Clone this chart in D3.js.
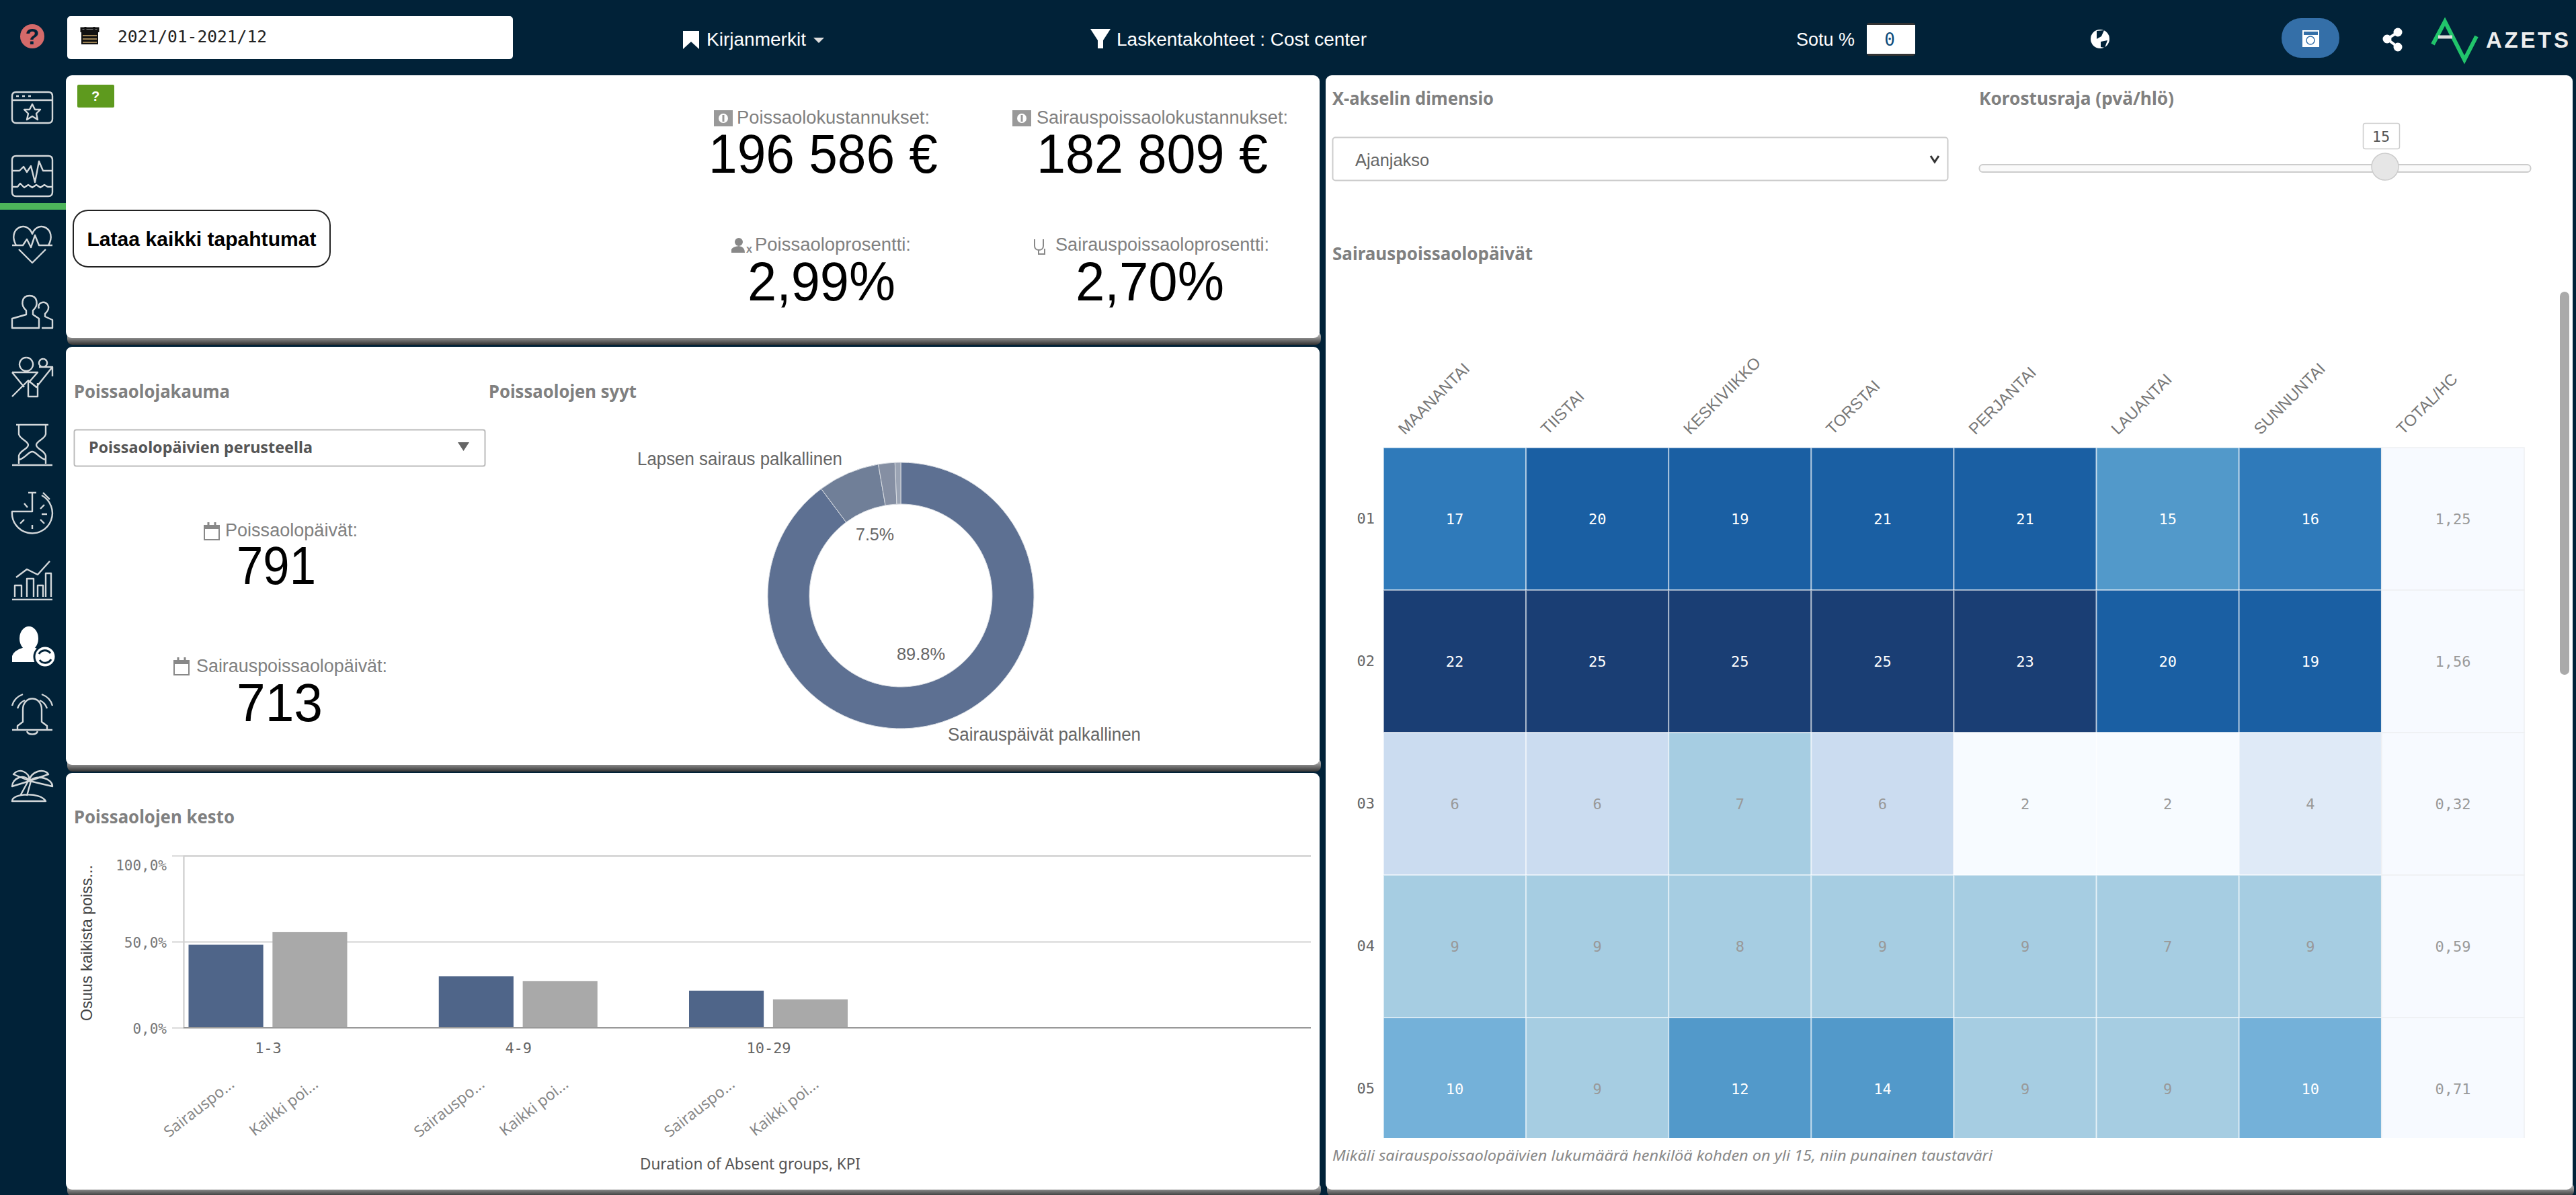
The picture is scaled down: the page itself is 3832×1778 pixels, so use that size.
<!DOCTYPE html>
<html>
<head>
<meta charset="utf-8">
<script src="https://cdn.jsdelivr.net/npm/d3@7"></script>
<style>
html,body{margin:0;padding:0;background:#012238;overflow:hidden;}
svg{display:block;}
</style>
</head>
<body>
<svg id="page" width="3832" height="1778"></svg>
<script>
// data
var weekdays = ["MAANANTAI","TIISTAI","KESKIVIIKKO","TORSTAI","PERJANTAI","LAUANTAI","SUNNUNTAI"];
var totalLabel = "TOTAL/HC";
var months = ["01","02","03","04","05"];
var sickDays = [
    [17,20,19,21,21,15,16],
    [22,25,25,25,23,20,19],
    [6,6,7,6,2,2,4],
    [9,9,8,9,9,7,9],
    [10,9,12,14,9,9,10]
];
var totals = ["1,25","1,56","0,32","0,59","0,71"];
var heatBreaks = [3,5,7,10,11,16,19,22];
var heatColors = ["#f7fbff","#dfeaf7","#cbdcf0","#a6cde2","#74b1d9","#5299ca","#2f7aba","#1a5fa3","#1a3e74"];

var reasons = ["Sairauspäivät palkallinen","Lapsen sairaus palkallinen","Muu","Muu 2"];
var reasonShare = [89.8,7.5,2.0,0.7];
var reasonColors = ["#5d7092","#707f98","#858fa3","#9ba4b4"];

var durationGroups = ["1-3","4-9","10-29"];
var durationSeries = ["Sairauspo...","Kaikki poi..."];
var sickShare = [48.2,29.9,21.5];
var allShare = [55.5,27.0,16.4];
var seriesColors = ["#4f6589","#a9a9a9"];
var yTicks = [0,50,100];

var SANS = "'Liberation Sans',Arial,sans-serif";
var PLEX = "'Noto Sans',sans-serif";
var MONO = "'DejaVu Sans Mono',monospace";
var svg = d3.select("#page");

function txt(parent, str, x, y, o){
    o = o || {};
    var t = parent.append("text").attr("x",x).attr("y",y).text(str)
        .attr("font-family",o.family||SANS)
        .attr("font-size",o.size||26)
        .attr("fill",o.fill||"#666")
        .attr("text-anchor",o.anchor||"start");
    if(o.weight) t.attr("font-weight",o.weight);
    if(o.style) t.attr("font-style",o.style);
    if(o.width) t.attr("textLength",o.width).attr("lengthAdjust",o.adjust||"spacingAndGlyphs");
    return t;
}

// panel shadow gradient
var grad = svg.append("defs").append("linearGradient").attr("id","shade").attr("x1",0).attr("x2",0).attr("y1",0).attr("y2",1);
grad.append("stop").attr("offset","0%").attr("stop-color","#e0e0e0");
grad.append("stop").attr("offset","100%").attr("stop-color","#333");

var panels = [[98,112,1865,391],[98,516,1865,622],[98,1150,1865,620],[1972,112,1855,1658]];
panels.forEach(function(p){
    svg.append("rect").attr("x",p[0]+2).attr("y",p[1]+p[3]-10).attr("width",p[2]).attr("height",20)
        .attr("rx",8).attr("fill","url(#shade)");
    svg.append("rect").attr("x",p[0]).attr("y",p[1]).attr("width",p[2]).attr("height",p[3])
        .attr("rx",9).attr("fill","#fff");
});

// top bar
svg.append("rect").attr("x",100).attr("y",24).attr("width",663).attr("height",64).attr("rx",5).attr("fill","#fff");
svg.append("rect").attr("x",121).attr("y",44).attr("width",25).attr("height",22).attr("fill","#111");
svg.append("path").attr("d","M121,48V42H146V48M127,40V44M140,40V44").attr("stroke","#111").attr("stroke-width",3).attr("fill","none");
svg.append("path").attr("d","M123,53H144M123,58H144M123,63H144").attr("stroke","#c9a76a").attr("stroke-width",1.5);
txt(svg,"2021/01-2021/12",175,63,{family:MONO,size:24,fill:"#222",width:222});
svg.append("ellipse").attr("cx",48).attr("cy",54).attr("rx",18).attr("ry",18).attr("fill","#d46a6a");
txt(svg,"?",48,66,{size:34,fill:"#012238",weight:"bold",anchor:"middle"});

svg.append("path").attr("d","M1016,46H1040V73L1028,62L1016,73Z").attr("fill","#fff");
txt(svg,"Kirjanmerkit",1051,68,{size:27,fill:"#fff",width:148});
svg.append("path").attr("d","M1210,56H1226L1218,64Z").attr("fill","#ddd");
svg.append("path").attr("d","M1622,43H1652L1641,60V72H1633V60Z").attr("fill","#fff");
txt(svg,"Laskentakohteet : Cost center",1661,68,{size:27,fill:"#fff",width:372});
txt(svg,"Sotu %",2672,68,{size:27,fill:"#fff",width:87});
svg.append("rect").attr("x",2777).attr("y",34).attr("width",72).attr("height",49).attr("rx",4).attr("fill","#333");
svg.append("rect").attr("x",2777).attr("y",37).attr("width",72).attr("height",43).attr("fill","#fff");
txt(svg,"0",2811,68,{family:MONO,size:26,fill:"#0a4a7a",anchor:"middle"});
svg.append("circle").attr("cx",3124).attr("cy",58).attr("r",14).attr("fill","#fff");
svg.append("path").attr("d","M3119,46L3130,45L3126,54L3119,58ZM3125,62L3135,60L3131,71L3125,70Z").attr("fill","#012238");
svg.append("rect").attr("x",3394).attr("y",27).attr("width",86).attr("height",59).attr("rx",29).attr("fill","#346fa8");
svg.append("rect").attr("x",3425).attr("y",45).attr("width",25).attr("height",25).attr("fill","#fff");
svg.append("rect").attr("x",3427).attr("y",47).attr("width",21).attr("height",5).attr("fill","#346fa8");
svg.append("circle").attr("cx",3437).attr("cy",60).attr("r",6).attr("fill","none").attr("stroke","#346fa8").attr("stroke-width",1.5);
svg.append("path").attr("d","M3567,48L3551,58L3567,70").attr("stroke","#fff").attr("stroke-width",4).attr("fill","none");
[[3567,48],[3551,58],[3567,70]].forEach(function(c){
    svg.append("circle").attr("cx",c[0]).attr("cy",c[1]).attr("r",6.5).attr("fill","#fff");
});
svg.append("path").attr("d","M3619,66L3637,32L3666,89L3684,54").attr("fill","none").attr("stroke","#21c46b").attr("stroke-width",6);
svg.append("path").attr("d","M3627,55H3648").attr("stroke","#ddd").attr("stroke-width",5);
txt(svg,"AZETS",3698,71,{size:33,fill:"#eee",weight:"bold",width:123,adjust:"spacing"});

// side icons, local coordinates around the icon centre
var sideIcons = [
    [48,160,"M-24,-23H24Q30,-23 30,-17V17Q30,23 24,23H-24Q-30,23 -30,17V-17Q-30,-23 -24,-23ZM-30,-11H30M-24,-17H-20M-15,-17H-11M-6,-17H-2M0,-5L4,3H12L6,9L8,18L0,13L-8,18L-6,9L-12,3H-4Z"],
    [48,262,"M-24,-30H24Q30,-30 30,-24V24Q30,30 24,30H-24Q-30,30 -30,24V-24Q-30,-30 -24,-30ZM-30,-8H-19L-13,-14L-8,-6L-2,-15L4,9L10,-22L16,-8H30M-30,16H-22L-18,11L-12,17L-6,13L0,17L6,13L12,17L18,13L23,16H30"],
    [48,362,"M-24,3C-38,-22 -8,-36 0,-14C8,-36 38,-22 24,3M-30,3H-14L-8,-6L-2,6L4,-12L10,3H30M-20,9L0,29L20,9"],
    [48,464,"M-9,-2C-18,-10 -16,-24 -4,-24C8,-24 10,-10 1,-2V4L10,10V24H-30V10L-9,4ZM10,-5C6,-15 22,-18 24,-8C25,-2 21,0 19,3V7L30,12V24H14"],
    [48,562,"M-9,-30A10,10 0 1 0 -8.9,-30M16,-28A6,6 0 1 0 16.1,-28M10,-16H26M-30,-8H8L-6,8V28H8V8M-30,-8L-12,14M-30,28L-6,4L6,14L30,-16M18,-16H30V-2"],
    [48,662,"M-24,-30H24M-20,-30V-16C-18,-8 -6,-6 -6,0C-6,6 -18,8 -20,16V28M20,-30V-16C18,-8 6,-6 6,0C6,6 18,8 20,16V28M-30,30H30M-20,22C-10,20 -6,10 0,10C6,10 10,20 20,22"],
    [48,763,"M0,-30V-2H-30A30,30 0 1 0 14,-26M-6,-30H6M16,-30L26,-20M18,-12L12,-6M22,2H14M18,16L12,10M0,24V18M-18,16L-12,10M-12,-14L-7,-8"],
    [48,863,"M-30,29H30M-26,25V8H-16V25M-8,25V-2H2V25M8,25V8H16V25M20,25V-10H28V25M-24,-4L-8,-16L8,-8L26,-28"],
    null,
    [48,1062,"M-22,24H22V18L14,12V-6C14,-28 -14,-28 -14,-6V12L-22,18ZM-30,24H30M-8,26C-6,32 6,32 8,26M-30,-12C-28,-20 -22,-26 -14,-29M-22,-8C-20,-14 -16,-18 -11,-20M30,-12C28,-20 22,-26 14,-29M22,-8C20,-14 16,-18 11,-20"],
    [48,1166,"M-4,-4C-4,-18 -20,-24 -28,-14L-4,-4ZM-4,-4C-12,-16 -30,-8 -30,4L-4,-4ZM-4,-4C-4,-18 18,-24 24,-14L-4,-4ZM-4,-4C8,-14 30,-8 30,4L-4,-4ZM-6,-4L-18,18M-2,-4L-8,18M-30,26C-30,14 12,12 20,26Z"]
];
sideIcons.forEach(function(ic){
    if(!ic) return;
    svg.append("path").attr("transform","translate("+ic[0]+","+ic[1]+")").attr("d",ic[2])
        .attr("fill","none").attr("stroke","#d4d8da").attr("stroke-width",2.4).attr("stroke-linejoin","round");
});
svg.append("ellipse").attr("cx",43).attr("cy",950).attr("rx",14).attr("ry",18).attr("fill","#fff");
svg.append("path").attr("fill","#fff").attr("d","M18,985V976Q20,968 36,963H50Q66,968 70,976V985Z");
svg.append("circle").attr("cx",67).attr("cy",977).attr("r",16).attr("fill","#fff").attr("stroke","#012238").attr("stroke-width",3);
svg.append("path").attr("d","M58,973A10,10 0 0 1 75,972M76,981A10,10 0 0 1 59,982").attr("fill","none").attr("stroke","#012238").attr("stroke-width",3);
svg.append("rect").attr("x",0).attr("y",302).attr("width",98).attr("height",10).attr("fill","#4db45a");

// top left panel
svg.append("rect").attr("x",115).attr("y",126).attr("width",55).attr("height",34).attr("rx",2).attr("fill","#5e9a1e");
txt(svg,"?",142,150,{size:20,fill:"#fff",anchor:"middle",weight:"bold"});
svg.append("rect").attr("x",109).attr("y",313).attr("width",382).attr("height",84).attr("rx",22).attr("fill","#fff").attr("stroke","#222").attr("stroke-width",2);
txt(svg,"Lataa kaikki tapahtumat",300,366,{size:30,fill:"#000",weight:"bold",anchor:"middle",width:341});

function moneyIcon(x,y){
    svg.append("rect").attr("x",x).attr("y",y).attr("width",28).attr("height",24).attr("fill","#999");
    svg.append("circle").attr("cx",x+14).attr("cy",y+12).attr("r",7).attr("fill","#fff");
    svg.append("rect").attr("x",x+12.5).attr("y",y+7).attr("width",3).attr("height",10).attr("fill","#999");
}
function calendarIcon(x,y){
    svg.append("rect").attr("x",x+1).attr("y",y+5).attr("width",22).attr("height",21).attr("fill","#fff").attr("stroke","#888").attr("stroke-width",2);
    svg.append("rect").attr("x",x+1).attr("y",y+4).attr("width",22).attr("height",6).attr("fill","#888");
    svg.append("path").attr("d","M"+(x+7)+","+y+"V"+(y+6)+"M"+(x+17)+","+y+"V"+(y+6)).attr("stroke","#888").attr("stroke-width",3);
}
moneyIcon(1062,164);
txt(svg,"Poissaolokustannukset:",1096,184,{size:27,fill:"#808080",width:287});
txt(svg,"196 586 €",1054,257,{size:82,fill:"#000",width:341});
moneyIcon(1506,164);
txt(svg,"Sairauspoissaolokustannukset:",1542,184,{size:27,fill:"#808080",width:374});
txt(svg,"182 809 €",1542,257,{size:82,fill:"#000",width:344});
svg.append("circle").attr("cx",1099).attr("cy",360).attr("r",6).attr("fill","#888");
svg.append("path").attr("d","M1088,376V371Q1090,367 1099,366Q1108,367 1108,376Z").attr("fill","#888");
txt(svg,"x",1110,376,{size:16,fill:"#888",weight:"bold"});
txt(svg,"Poissaoloprosentti:",1123,373,{size:27,fill:"#808080",width:232});
txt(svg,"2,99%",1112,447,{size:82,fill:"#000",width:220});
svg.append("path").attr("d","M1539,356V366C1539,374 1552,374 1552,366V356M1545,372V378H1554V370").attr("fill","none").attr("stroke","#888").attr("stroke-width",2);
txt(svg,"Sairauspoissaoloprosentti:",1570,373,{size:27,fill:"#808080",width:318});
txt(svg,"2,70%",1600,447,{size:82,fill:"#000",width:221});

// middle left panel
txt(svg,"Poissaolojakauma",110,592,{family:PLEX,size:26,fill:"#808080",weight:"bold",width:232});
txt(svg,"Poissaolojen syyt",727,592,{family:PLEX,size:26,fill:"#808080",weight:"bold",width:220});
svg.append("rect").attr("x",110.5).attr("y",639.5).attr("width",611).attr("height",54).attr("rx",3).attr("fill","#fff").attr("stroke","#bbb").attr("stroke-width",2);
txt(svg,"Poissaolopäivien perusteella",132,674,{family:PLEX,size:24,fill:"#555",weight:"bold",width:333});
svg.append("path").attr("d","M681,658H698L689.5,671Z").attr("fill","#666");
calendarIcon(303,777);
txt(svg,"Poissaolopäivät:",335,798,{size:27,fill:"#808080",width:197});
txt(svg,"791",411,869,{size:80,fill:"#000",anchor:"middle",width:118});
calendarIcon(258,978);
txt(svg,"Sairauspoissaolopäivät:",292,1000,{size:27,fill:"#808080",width:284});
txt(svg,"713",416,1073,{size:80,fill:"#000",anchor:"middle",width:128});

// donut
var pie = d3.pie().sort(null).value(function(d){return d;});
var arc = d3.arc().innerRadius(136).outerRadius(198);
var donut = svg.append("g").attr("transform","translate(1340,886)");
donut.selectAll("path").data(pie(reasonShare)).enter().append("path")
    .attr("d",arc)
    .attr("fill",function(d,i){return reasonColors[i];})
    .attr("stroke","#d8dce2").attr("stroke-width",1);
txt(svg,reasons[1],948,692,{size:27,fill:"#666",width:305});
txt(svg,reasonShare[1].toFixed(1)+"%",1273,804,{size:26,fill:"#666",width:57});
txt(svg,reasonShare[0].toFixed(1)+"%",1334,982,{size:26,fill:"#666",width:72});
txt(svg,reasons[0],1410,1102,{size:27,fill:"#666",width:287});

// duration bars
txt(svg,"Poissaolojen kesto",110,1225,{family:PLEX,size:26,fill:"#808080",weight:"bold",width:239});
var yBar = d3.scaleLinear().domain([0,100]).range([1529,1273]);
var xGroup = d3.scalePoint().domain(durationGroups).range([398.5,1143]);
var xSeries = d3.scaleBand().domain(durationSeries).range([-118,118]).paddingInner(0.11);

function pctFmt(d){ return d3.format(".1f")(d).replace(".",",")+"%"; }

var gridG = svg.append("g").attr("transform","translate(273,0)")
    .call(d3.axisLeft(yBar).tickValues(yTicks).tickSize(-1677).tickFormat(""));
gridG.select(".domain").attr("stroke","#c8c8c8").attr("stroke-width",2);
gridG.selectAll("line").attr("stroke","#d2d2d2").attr("stroke-width",2);

var yAxisG = svg.append("g").attr("transform","translate(273,0)")
    .call(d3.axisLeft(yBar).tickValues(yTicks).tickSize(17).tickPadding(8).tickFormat(pctFmt));
yAxisG.select(".domain").remove();
yAxisG.selectAll("line").attr("stroke","#d2d2d2").attr("stroke-width",2);
yAxisG.selectAll("text").attr("font-family",MONO).attr("font-size",21).attr("fill","#777")
    .attr("dy",function(d){return d===100?"1.0em":"0.42em";});

var groups = svg.selectAll(".dur").data(durationGroups).enter().append("g").attr("class","dur")
    .attr("transform",function(d){return "translate("+xGroup(d)+",0)";});
groups.selectAll("rect").data(function(d,i){return [sickShare[i],allShare[i]];}).enter().append("rect")
    .attr("x",function(d,i){return xSeries(durationSeries[i]);})
    .attr("width",xSeries.bandwidth())
    .attr("y",function(d){return yBar(d);})
    .attr("height",function(d){return yBar(0)-yBar(d);})
    .attr("fill",function(d,i){return seriesColors[i];});
groups.selectAll("text.ser").data(durationSeries).enter().append("text").attr("class","ser")
    .attr("text-anchor","end")
    .attr("transform",function(d){return "translate("+(xSeries(d)+xSeries.bandwidth()/2+14)+",1616) rotate(-38)";})
    .attr("font-family",PLEX).attr("font-size",23).attr("fill","#888")
    .text(function(d){return d;});

var xAxisG = svg.append("g").attr("transform","translate(0,1529)")
    .call(d3.axisBottom(xGroup).tickSize(0).tickPadding(22));
xAxisG.select(".domain").remove();
xAxisG.selectAll("text").attr("font-family",MONO).attr("font-size",22).attr("fill","#666");
svg.append("line").attr("x1",273).attr("x2",1950).attr("y1",1529).attr("y2",1529).attr("stroke","#999").attr("stroke-width",2);

txt(svg,"Duration of Absent groups, KPI",952,1740,{family:PLEX,size:24,fill:"#555",width:328});
txt(svg,"Osuus kaikista poiss...",0,0,{size:24,fill:"#444",anchor:"middle",width:232})
    .attr("transform","translate(137,1403) rotate(-90)");

// right panel controls
txt(svg,"X-akselin dimensio",1982,156,{family:PLEX,size:26,fill:"#808080",weight:"bold",width:240});
txt(svg,"Korostusraja (pvä/hlö)",2944,156,{family:PLEX,size:26,fill:"#808080",weight:"bold",width:290});
svg.append("rect").attr("x",1982.5).attr("y",204.5).attr("width",915).attr("height",64).attr("rx",4).attr("fill","#fff").attr("stroke","#ccc").attr("stroke-width",2);
txt(svg,"Ajanjakso",2016,247,{size:26,fill:"#666",width:110});
svg.append("path").attr("d","M2872,232L2878,241L2884,232").attr("fill","none").attr("stroke","#333").attr("stroke-width",3);
svg.append("rect").attr("x",2944.5).attr("y",245).attr("width",820).attr("height",11).attr("rx",5).attr("fill","#fafafa").attr("stroke","#ccc").attr("stroke-width",2);
svg.append("circle").attr("cx",3548).attr("cy",248).attr("r",20).attr("fill","#e6e6e6").attr("stroke","#ccc").attr("stroke-width",1.5);
svg.append("rect").attr("x",3515.5).attr("y",183.5).attr("width",54).attr("height",38).attr("rx",3).attr("fill","#fff").attr("stroke","#ccc").attr("stroke-width",1.5);
txt(svg,"15",3542,211,{family:MONO,size:22,fill:"#555",anchor:"middle"});
txt(svg,"Sairauspoissaolopäivät",1982,387,{family:PLEX,size:26,fill:"#808080",weight:"bold",width:298});
svg.append("rect").attr("x",3808).attr("y",434).attr("width",14).attr("height",570).attr("rx",7).attr("fill","#aaa");

// heatmap
var columns = weekdays.concat([totalLabel]);
var xHeat = d3.scaleBand().domain(columns).range([2058,3755]);
var yHeat = d3.scaleBand().domain(months).range([666,1726]);
var heatColor = d3.scaleThreshold().domain(heatBreaks).range(heatColors);

svg.select("defs").append("clipPath").attr("id","heatClip").append("rect")
    .attr("x",2050).attr("y",660).attr("width",1720).attr("height",1033);

var heat = svg.append("g").attr("clip-path","url(#heatClip)");
var rows = heat.selectAll(".row").data(months).enter().append("g").attr("class","row")
    .attr("transform",function(m){return "translate(0,"+yHeat(m)+")";});

rows.selectAll("rect.cell").data(function(m,i){return sickDays[i];}).enter().append("rect").attr("class","cell")
    .attr("x",function(d,i){return xHeat(weekdays[i]);})
    .attr("width",xHeat.bandwidth())
    .attr("height",yHeat.bandwidth())
    .attr("fill",function(d){return heatColor(d);})
    .attr("stroke","#fff").attr("stroke-opacity",0.5).attr("stroke-width",2);
rows.selectAll("text.val").data(function(m,i){return sickDays[i];}).enter().append("text").attr("class","val")
    .attr("x",function(d,i){return xHeat(weekdays[i])+xHeat.bandwidth()/2;})
    .attr("y",yHeat.bandwidth()/2+8)
    .attr("text-anchor","middle")
    .attr("font-family",MONO).attr("font-size",22)
    .attr("fill",function(d){return d>=10?"#fff":"#999";})
    .text(function(d){return d;});
rows.append("rect")
    .attr("x",xHeat(totalLabel)).attr("width",xHeat.bandwidth()).attr("height",yHeat.bandwidth())
    .attr("fill","#f7faff").attr("stroke","#eef0f2").attr("stroke-width",1.5);
rows.append("text")
    .attr("x",xHeat(totalLabel)+xHeat.bandwidth()/2)
    .attr("y",yHeat.bandwidth()/2+8)
    .attr("text-anchor","middle")
    .attr("font-family",MONO).attr("font-size",22).attr("fill","#999")
    .text(function(m,i){return totals[i];});

var rowAxis = svg.append("g").attr("transform","translate(2058,0)")
    .call(d3.axisLeft(yHeat).tickSize(0).tickPadding(13));
rowAxis.select(".domain").remove();
rowAxis.selectAll("text").attr("font-family",MONO).attr("font-size",22).attr("fill","#666");

var colAxis = svg.append("g").attr("transform","translate(0,650)")
    .call(d3.axisTop(xHeat).tickSize(0).tickFormat(function(d){return d;}));
colAxis.select(".domain").remove();
colAxis.selectAll("text")
    .attr("font-family",SANS).attr("font-size",24).attr("fill","#777")
    .attr("text-anchor","start")
    .attr("transform","translate(-72,0) rotate(-45)");

txt(svg,"Mikäli sairauspoissaolopäivien lukumäärä henkilöä kohden on yli 15, niin punainen taustaväri",1982,1727,{family:PLEX,size:22,fill:"#888",style:"italic",width:982});
</script>
</body>
</html>
